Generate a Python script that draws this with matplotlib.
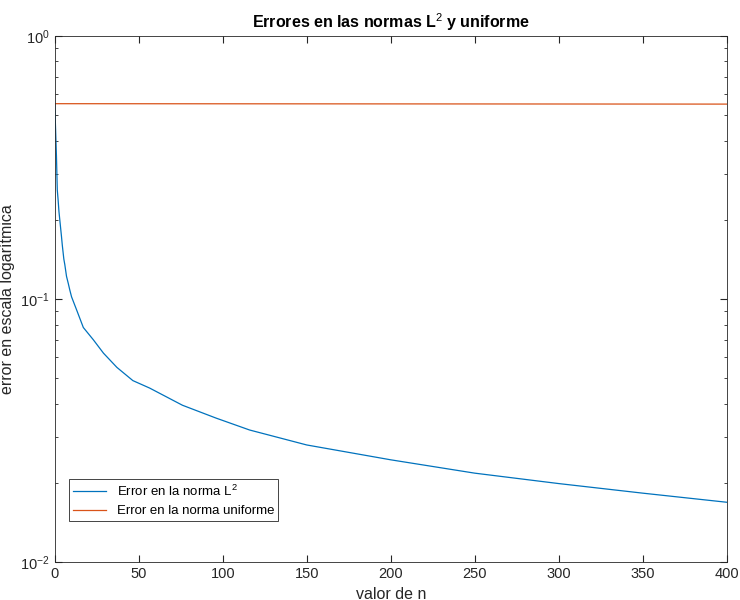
import matplotlib.pyplot as plt
from matplotlib.ticker import LogLocator, FixedLocator

plt.rcParams['font.family'] = ['Liberation Sans', 'DejaVu Sans']
plt.rcParams['mathtext.fontset'] = 'custom'
plt.rcParams['mathtext.rm'] = 'Liberation Sans'

# Values
n_l2 = [0, 0.5, 1, 1.5, 2, 2.5, 4, 4.5, 5.4, 6, 7, 8, 9, 10, 13, 17, 23, 29,
        37, 46.5, 56.5, 76, 96, 116, 150, 200, 250, 300, 350, 400]
err_l2 = [0.55, 0.44, 0.35, 0.26, 0.238, 0.215, 0.173, 0.16, 0.142, 0.135,
          0.122, 0.115, 0.108, 0.102, 0.091, 0.078, 0.070, 0.0623, 0.055,
          0.049, 0.0459, 0.0395, 0.0353, 0.0318, 0.0279, 0.0245, 0.0218,
          0.0199, 0.0183, 0.0169]
n_unif = [0, 100, 200, 300, 400]
err_unif = [0.553, 0.5525, 0.552, 0.5515, 0.551]

fig = plt.figure(figsize=(7.4, 6), dpi=100)
ax = fig.add_axes([0.074, 0.063, 0.908, 0.877])
ax.plot(n_l2, err_l2, color='#0072BD', lw=0.9,
        label='Error en la norma L$^2$')
ax.plot(n_unif, err_unif, color='#D95319', lw=0.9,
        label='Error en la norma uniforme')
ax.set_yscale('log')
ax.set_xlim(0, 400)
ax.set_ylim(0.01, 1)
ax.xaxis.set_major_locator(FixedLocator(range(0, 401, 50)))
ax.yaxis.set_major_locator(LogLocator(base=10))
ax.tick_params(which='both', direction='in', top=True, right=True,
               labelsize=10.5, color='#262626', labelcolor='#262626')
ax.tick_params(which='major', length=5)
ax.tick_params(which='minor', length=2.5)
for s in ax.spines.values():
    s.set_color('#262626')
    s.set_linewidth(0.6)
ax.set_xlabel('valor de n', fontsize=11.5, color='#262626')
ax.set_ylabel('error en escala logarítmica', fontsize=11.5, color='#262626')
ax.set_title('Errores en las normas L$^2$ y uniforme', fontsize=11.5,
             fontweight='bold')
leg = ax.legend(loc='lower left', bbox_to_anchor=(0.012, 0.065), fontsize=9.5,
                fancybox=False, framealpha=1, edgecolor='#262626',
                borderpad=0.3, handlelength=2.5)
leg.get_frame().set_linewidth(0.6)
fig.savefig('out.png', dpi=100)
